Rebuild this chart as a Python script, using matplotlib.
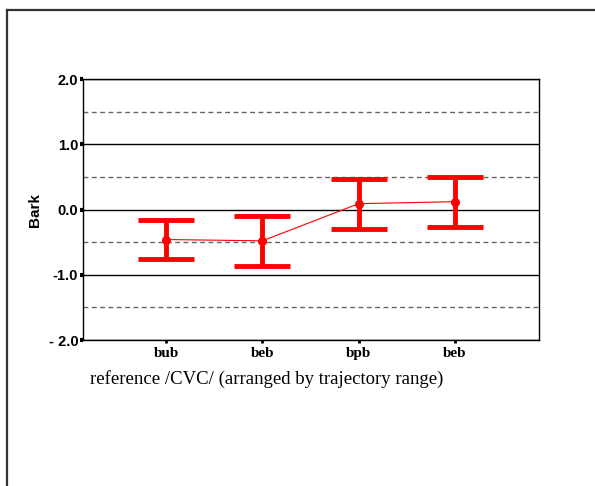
#!/usr/bin/env python3
import matplotlib
matplotlib.use("Agg")
import matplotlib.pyplot as plt
from matplotlib.lines import Line2D

# Data
categories = ["bub", "beb", "bpb", "beb"]
means = [-0.46, -0.48, 0.09, 0.12]
upper = [-0.16, -0.10, 0.47, 0.50]
lower = [-0.76, -0.87, -0.30, -0.27]
yticks = [-2.0, -1.0, 0.0, 1.0, 2.0]
ytick_labels = ["- 2.0", "-1.0", "0.0", "1.0", "2.0"]
half_lines = [-1.5, -0.5, 0.5, 1.5]


def main():
    fig = plt.figure(figsize=(5.95, 4.86), dpi=100)
    ax = fig.add_axes([0.1395, 0.3004, 0.7665, 0.537])

    # Page frame (top and left edge only)
    fig.add_artist(Line2D([0.0118, 1.0], [0.9794, 0.9794], transform=fig.transFigure,
                          color="#333333", linewidth=1.6))
    fig.add_artist(Line2D([0.0118, 0.0118], [0.0, 0.9794], transform=fig.transFigure,
                          color="#333333", linewidth=1.6))

    # Reference lines
    for y in yticks:
        ax.axhline(y, color="black", linewidth=1.0, zorder=1)
    for y in half_lines:
        ax.axhline(y, color="#666666", linewidth=1.0, linestyle=(0, (3.5, 2.5)), zorder=1)

    x = list(range(len(categories)))
    yerr = [[m - lo for m, lo in zip(means, lower)],
            [hi - m for m, hi in zip(means, upper)]]
    ax.plot(x, means, color="red", linewidth=0.8, zorder=3)
    ax.errorbar(x, means, yerr=yerr, fmt="o", color="red", markersize=5.5,
                elinewidth=3.5, capsize=20, capthick=3.5, zorder=4)

    ax.set_xlim(-0.862, 3.872)
    ax.set_ylim(-2.0, 2.0)
    ax.set_yticks(yticks)
    ax.set_yticklabels(ytick_labels, fontfamily="Liberation Sans", fontweight="bold", fontsize=10.5)
    ax.set_xticks(x)
    ax.set_xticklabels(categories, fontfamily="Liberation Serif", fontweight="bold", fontsize=11)
    ax.tick_params(axis="y", length=2.5, width=3, direction="out", pad=1)
    ax.tick_params(axis="x", length=2, width=2, direction="out", pad=3)

    for sp in ax.spines.values():
        sp.set_color("black")
        sp.set_linewidth(1.0)

    ax.set_ylabel("Bark", fontfamily="Liberation Sans", fontweight="bold", fontsize=11, labelpad=5)

    fig.text(90 / 595, 1 - 379 / 486, "reference /CVC/ (arranged by trajectory range)",
             fontfamily="Liberation Serif", fontsize=13.5, ha="left", va="center")

    fig.savefig("out.png", dpi=100)


if __name__ == "__main__":
    main()
